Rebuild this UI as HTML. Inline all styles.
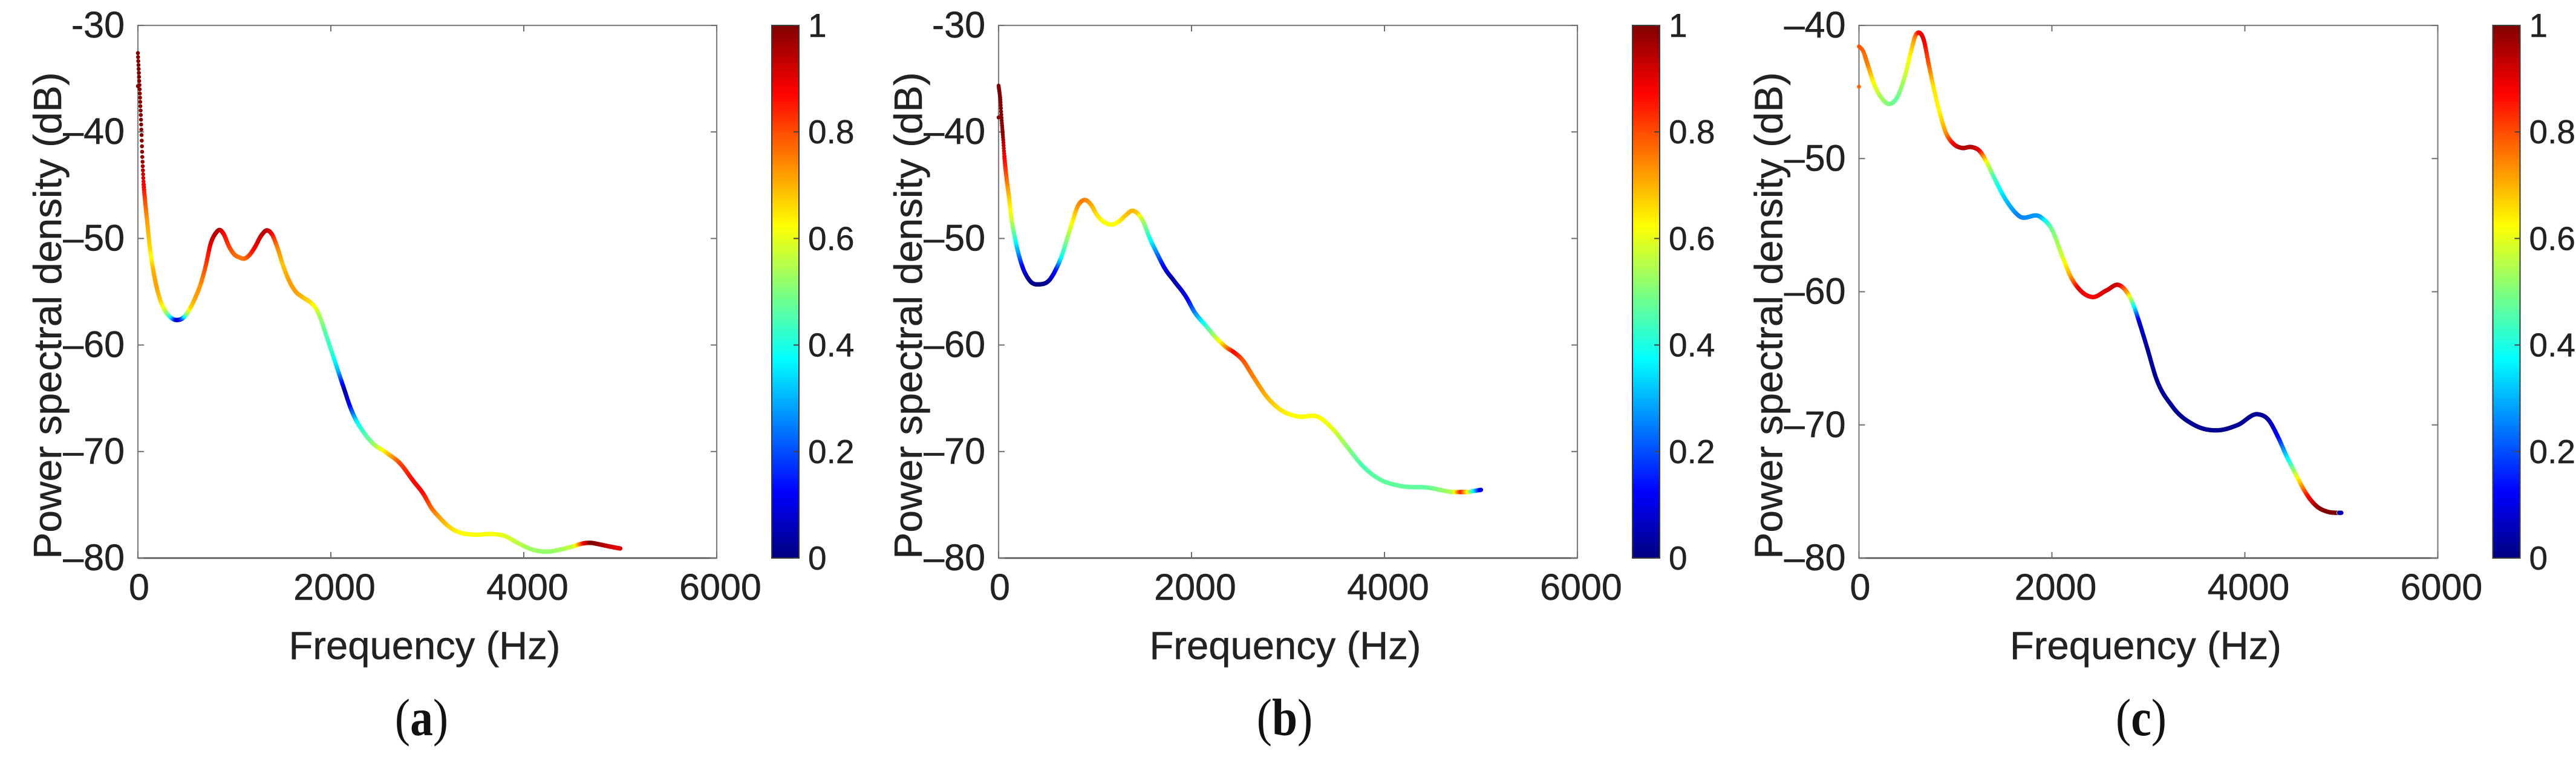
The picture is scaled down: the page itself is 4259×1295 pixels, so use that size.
<!DOCTYPE html>
<html lang="en">
<head>
<meta charset="utf-8">
<title>Power spectral density panels</title>
<style>
html,body{margin:0;padding:0;background:#fff;width:4259px;height:1295px;overflow:hidden}
svg{display:block}
text{font-family:"Liberation Sans",sans-serif;fill:#222;stroke:#222;stroke-width:0.5}
.cap{font-family:"Liberation Serif",serif;fill:#111;stroke:none}
</style>
</head>
<body>
<svg id="fig" xmlns="http://www.w3.org/2000/svg" width="4259" height="1295" viewBox="0 0 4259 1295"></svg>
<script>
// Axis ticks
const xTicks = [0, 2000, 4000, 6000];
const colorTicks = [0, 0.2, 0.4, 0.6, 0.8, 1];
const colorTickLabels = ["0", "0.2", "0.4", "0.6", "0.8", "1"];
const yTicksAB = [-30, -40, -50, -60, -70, -80];
const yLabelsAB = ["-30", "–40", "–50", "–60", "–70", "–80"];
const yTicksC = [-40, -50, -60, -70, -80];
const yLabelsC = ["–40", "–50", "–60", "–70", "–80"];

// Panel (a)
const aFreq = [0,17,34,48,58,75,96,127,138,159,
  190,232,274,326,372,414,462,504,545,598,
  650,702,754,807,848,890,942,995,1058,1099,
  1152,1214,1277,1340,1392,1444,1507,1569,1632,1705,
  1789,1841,1893,1956,2019,2081,2144,2196,2270,2318,
  2432,2574,2716,2858,2959,3043,3127,3231,3336,3482,
  3691,3795,3942,4088,4234,4381,4527,4579,4631,4694,
  4777,4882,5000];
const aDb = [-32.6,-35.8,-39.3,-42.8,-44.64,-46.5,-48.4,-51.06,-51.8,-52.97,
  -54.4,-55.8,-56.66,-57.3,-57.6,-57.65,-57.5,-57.1,-56.5,-55.5,
  -54.3,-52.6,-50.5,-49.5,-49.2,-49.6,-50.7,-51.45,-51.8,-51.9,
  -51.6,-50.8,-49.75,-49.24,-49.65,-50.8,-52.6,-54,-54.95,-55.5,
  -56,-56.5,-57.5,-59.2,-60.9,-62.6,-64.3,-65.7,-67.2,-67.9,
  -69.2,-70.1,-71.1,-72.8,-73.97,-75.3,-76.2,-77.1,-77.6,-77.8,
  -77.75,-77.9,-78.6,-79.2,-79.4,-79.2,-78.85,-78.7,-78.6,-78.57,
  -78.7,-78.9,-79.1];
const aColor = [1,1,1,0.98,0.9,0.8,0.72,0.66,0.62,0.7,
  0.72,0.68,0.6,0.45,0.25,0.05,0.2,0.48,0.65,0.72,
  0.73,0.8,0.9,0.95,0.95,0.88,0.82,0.78,0.76,0.76,
  0.8,0.88,0.93,0.95,0.88,0.75,0.68,0.72,0.72,0.7,
  0.66,0.62,0.53,0.45,0.42,0.3,0.03,0.12,0.36,0.42,
  0.5,0.65,0.8,0.87,0.87,0.78,0.72,0.67,0.63,0.62,
  0.62,0.6,0.56,0.53,0.52,0.53,0.58,0.72,0.88,1,
  0.98,0.93,0.9];
const aOutlier = [0, -35.7, 1];

// Panel (b)
const bFreq = [0,19,31,46,61,82,109,130,161,192,
  245,318,433,527,600,652,715,767,819,861,
  903,955,1028,1102,1174,1248,1321,1384,1446,1498,
  1561,1645,1729,1812,1958,2017,2159,2273,2358,2443,
  2528,2642,2784,2926,3097,3324,3466,3608,3779,3949,
  4148,4460,4716,4801,4870,4926,5000];
const bDb = [-35.66,-37.1,-38.8,-40.5,-42.4,-44.3,-46.2,-47.9,-49.56,-50.9,
  -52.6,-53.9,-54.3,-53.9,-52.8,-51.7,-49.9,-48.4,-47,-46.5,
  -46.4,-46.8,-47.9,-48.5,-48.7,-48.4,-47.8,-47.4,-47.7,-48.4,
  -49.85,-51.45,-52.9,-53.9,-55.7,-56.7,-58.3,-59.5,-60.2,-60.7,
  -61.4,-63,-64.9,-66.1,-66.7,-66.8,-67.9,-69.5,-71.4,-72.6,
  -73.2,-73.4,-73.8,-73.8,-73.8,-73.7,-73.6];
const bColor = [1,1,1,0.98,0.88,0.78,0.68,0.6,0.47,0.33,
  0.13,0.02,0,0.03,0.15,0.38,0.52,0.63,0.72,0.75,
  0.75,0.72,0.65,0.62,0.62,0.63,0.68,0.7,0.68,0.55,
  0.42,0.25,0.1,0.03,0.1,0.22,0.43,0.58,0.72,0.88,
  0.8,0.75,0.7,0.65,0.62,0.63,0.6,0.52,0.45,0.47,
  0.47,0.47,0.55,0.85,0.62,0.4,0.1];
const bOutlier = [0, -38.64, 1];

// Panel (c)
const cFreq = [0,41,93,156,229,312,396,469,542,584,
  626,672,720,772,835,898,981,1065,1169,1253,
  1326,1399,1514,1657,1884,1998,2111,2197,2282,2424,
  2566,2696,2792,2861,2906,2991,3076,3247,3474,3729,
  3928,4137,4242,4346,4430,4492,4555,4649,4743,4848,
  4952,4968,4978,5000];
const cDb = [-41.58,-41.9,-43,-44.4,-45.4,-45.9,-45.4,-44,-41.9,-40.8,
  -40.55,-41.1,-42.8,-44.6,-46.5,-48,-48.9,-49.2,-49.14,-49.45,
  -50.3,-51.4,-53,-54.3,-54.4,-55.3,-57.4,-58.9,-59.8,-60.4,
  -59.9,-59.5,-60.2,-61.3,-62.3,-64.3,-66.4,-68.6,-70,-70.4,
  -70,-69.2,-69.6,-70.94,-72.3,-73.2,-74.1,-75.3,-76.1,-76.5,
  -76.6,-76.6,-76.6,-76.6];
const cColor = [0.8,0.78,0.75,0.62,0.54,0.5,0.47,0.55,0.65,0.75,
  0.87,0.9,0.8,0.65,0.63,0.72,0.88,0.95,0.95,0.9,
  0.62,0.45,0.33,0.25,0.28,0.48,0.58,0.72,0.9,0.87,
  0.92,0.93,0.7,0.35,0.08,0.03,0.02,0.02,0.02,0.02,
  0.02,0.02,0.03,0.12,0.33,0.47,0.63,0.85,0.97,1,
  1,1,0.05,0.05];
const cOutlier = [0, -44.6, 0.78];

const NS = "http://www.w3.org/2000/svg";
const fig = document.getElementById("fig");

function make(parent, tag, attrs, txt) {
  const n = document.createElementNS(NS, tag);
  for (const k in attrs) n.setAttribute(k, attrs[k]);
  if (txt !== undefined) n.textContent = txt;
  parent.appendChild(n);
  return n;
}

function jet(v) {
  const c = Math.max(0, Math.min(1, v));
  const ramp = t => Math.round(255 * Math.max(0, Math.min(1, t)));
  const r = ramp(Math.min(4 * c - 1.5, -4 * c + 4.5));
  const g = ramp(Math.min(4 * c - 0.5, -4 * c + 3.5));
  const b = ramp(Math.min(4 * c + 0.5, -4 * c + 2.5));
  return "rgb(" + r + "," + g + "," + b + ")";
}

function curveAt(fs, ys, cs, f) {
  let i = 0;
  while (i < fs.length - 2 && f > fs[i + 1]) i++;
  const h = fs[i + 1] - fs[i];
  const t = (f - fs[i]) / h;
  const slope = k => {
    if (k <= 0) return (ys[1] - ys[0]) / (fs[1] - fs[0]);
    if (k >= fs.length - 1) return (ys[k] - ys[k - 1]) / (fs[k] - fs[k - 1]);
    const h0 = fs[k] - fs[k - 1], h1 = fs[k + 1] - fs[k];
    const d0 = (ys[k] - ys[k - 1]) / h0, d1 = (ys[k + 1] - ys[k]) / h1;
    return (h1 * d0 + h0 * d1) / (h0 + h1);
  };
  const m0 = slope(i), m1 = slope(i + 1);
  const t2 = t * t, t3 = t2 * t;
  const y = (2 * t3 - 3 * t2 + 1) * ys[i] + (t3 - 2 * t2 + t) * h * m0 + (-2 * t3 + 3 * t2) * ys[i + 1] + (t3 - t2) * h * m1;
  return { y: y, c: cs[i] + (cs[i + 1] - cs[i]) * t };
}

function drawPanel(p) {
  const top = 42, bottom = 923, W = 957;
  const left = p.left, right = left + W;
  const sx = f => left + f / 6000 * W;
  const sy = d => top + (p.yMax - d) / (p.yMax - p.yMin) * (bottom - top);
  const tickColor = "#6e6e6e";

  const g = make(fig, "g", {});
  
  

  const frame = make(g, "rect", { x: left, y: top, width: W, height: bottom - top, fill: "none", stroke: "#808080", "stroke-width": 2.2 });
  
  
  const base = make(g, "line", { x1: left, x2: right, y1: bottom, y2: bottom, stroke: "#555", "stroke-width": 2.6 });
  
  

  xTicks.forEach(t => {
    const x = sx(t);
    const lowTick = make(g, "line", { x1: x, x2: x, y1: bottom, y2: bottom - 10, stroke: tickColor, "stroke-width": 2 });
    
    
    const highTick = make(g, "line", { x1: x, x2: x, y1: top, y2: top + 10, stroke: tickColor, "stroke-width": 2 });
    
    
    const lab = make(g, "text", { x: x + (t === 0 ? 2 : 6), y: 992, "font-size": 61, "text-anchor": "middle" }, String(t));
    
    
  });

  p.yTicks.forEach((t, i) => {
    const y = sy(t);
    const leftTick = make(g, "line", { x1: left, x2: left + 10, y1: y, y2: y, stroke: tickColor, "stroke-width": 2 });
    
    
    const rightTick = make(g, "line", { x1: right, x2: right - 10, y1: y, y2: y, stroke: tickColor, "stroke-width": 2 });
    
    
    const lab = make(g, "text", { x: left - 22, y: y + 20, "font-size": 61, "text-anchor": "end" }, p.yLabels[i]);
    
    
  });

  const xt = make(g, "text", { x: left + 474, y: 1090, "font-size": 65, "text-anchor": "middle", textLength: 449, lengthAdjust: "spacingAndGlyphs" }, "Frequency (Hz)");
  
  

  const yx = left - 127, yy = 522;
  const yt = make(g, "text", { x: yx, y: yy, "font-size": 65, "text-anchor": "middle", textLength: 805, lengthAdjust: "spacingAndGlyphs", transform: "rotate(-90 " + yx + " " + yy + ")" }, "Power spectral density (dB)");
  
  

  const curve = make(g, "g", {});
  
  
  const maxF = p.freq[p.freq.length - 1];
  let f = p.freq[0];
  while (f <= maxF) {
    const s = curveAt(p.freq, p.db, p.color, f);
    const dot = make(curve, "circle", { cx: sx(f).toFixed(1), cy: sy(s.y).toFixed(1), r: f < 60 ? 3.3 : 3.6, fill: jet(s.c) });
    
    
    f += f < 200 ? 2 : 4;
  }
  const stray = make(curve, "circle", { cx: sx(p.outlier[0]), cy: sy(p.outlier[1]), r: 3.3, fill: jet(p.outlier[2]) });
  
  

  // colour bar
  const cbL = left + 1048, cbW = 45;
  const cb = make(g, "g", {});
  
  
  const cbH = bottom - top;
  const strips = 220;
  for (let i = 0; i < strips; i++) {
    const v = (i + 0.5) / strips;
    const strip = make(cb, "rect", { x: cbL, y: (bottom - (i + 1) * cbH / strips).toFixed(2), width: cbW, height: (cbH / strips + 0.6).toFixed(2), fill: jet(v) });
    
    
  }
  const cbFrame = make(cb, "rect", { x: cbL, y: top, width: cbW, height: cbH, fill: "none", stroke: "#3a3a3a", "stroke-width": 2 });
  
  
  colorTicks.forEach((t, i) => {
    const y = bottom - t * cbH;
    const tk = make(cb, "line", { x1: cbL + cbW, x2: cbL + cbW - 9, y1: y, y2: y, stroke: "#444", "stroke-width": 2 });
    
    
    const lab = make(cb, "text", { x: cbL + cbW + 15, y: y + 19, "font-size": 55 }, colorTickLabels[i]);
    
    
  });

  // caption
  const cap = make(g, "text", { class: "cap", "font-size": 87, "text-anchor": "middle", transform: "translate(" + p.capX + " 1216) scale(0.87 1)" });
  
  
  make(cap, "tspan", {}, "(");
  make(cap, "tspan", { "font-weight": "bold" }, p.letter);
  make(cap, "tspan", {}, ")");
}

drawPanel({ name: "panel-a", letter: "a", left: 228, capX: 697, yMax: -30, yMin: -80, yTicks: yTicksAB, yLabels: yLabelsAB, freq: aFreq, db: aDb, color: aColor, outlier: aOutlier });
drawPanel({ name: "panel-b", letter: "b", left: 1651, capX: 2124, yMax: -30, yMin: -80, yTicks: yTicksAB, yLabels: yLabelsAB, freq: bFreq, db: bDb, color: bColor, outlier: bOutlier });
drawPanel({ name: "panel-c", letter: "c", left: 3073.5, capX: 3540, yMax: -40, yMin: -80, yTicks: yTicksC, yLabels: yLabelsC, freq: cFreq, db: cDb, color: cColor, outlier: cOutlier });
</script>
</body>
</html>
